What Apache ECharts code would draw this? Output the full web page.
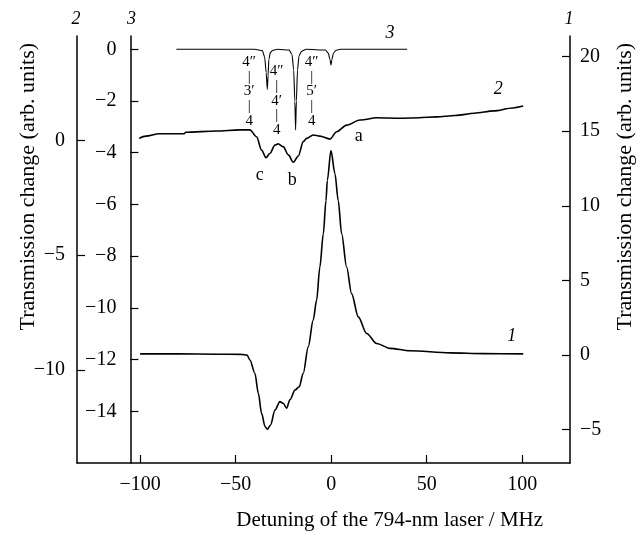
<!DOCTYPE html>
<html>
<head>
<meta charset="utf-8">
<script src="https://cdn.jsdelivr.net/npm/echarts@6/dist/echarts.min.js"></script>
<style>
  html, body { margin:0; padding:0; background:#fff; }
  #chart { width:644px; height:534px; }
</style>
</head>
<body>
<div id="chart"></div>
<script>
// curve 1 (right axis "1")
const detune1 = [-100,-80,-60,-47,-44,-42.5,-39.9,-38.1,-36.4,-34.6,-33.4,-31.7,-29.4,-26.8,-25.1,-23.3,-21.6,-18.9,-16.7,-14.6,-12,-9.4,-7.6,-5.9,-4.1,-2.7,-2,-0.1,2,3.7,5.5,8.1,10.7,14.2,18.6,23.8,30.8,41.2,62.2,80,100.5];
const signal1 = [0.08,0.08,0.06,0.05,0,-0.33,-1.22,-2.56,-3.9,-4.79,-4.97,-4.68,-3.68,-3.12,-3.23,-3.56,-3,-2.34,-2.12,-1.22,0.55,2.34,3.68,5.9,8.13,10.36,11.7,13.7,12.15,10.36,8.13,5.9,4.12,2.56,1.45,0.78,0.45,0.29,0.15,0.1,0.08];

// curve 2 (left axis "2")
const detune2 = [-100.5,-97,-90,-77,-76,-60,-48,-42.5,-39,-36.4,-34.1,-32,-29.4,-27.7,-25.1,-22.4,-19.8,-17.2,-14.6,-12.8,-9.4,-5.9,-0.6,2.9,8.1,15.1,23.8,36,46,55,65,75,85,95,100.5];
const signal2 = [0.1,0.2,0.3,0.3,0.37,0.42,0.47,0.47,0.17,-0.41,-0.74,-0.55,-0.19,-0.14,-0.26,-0.62,-0.94,-0.67,-0.04,0.1,0.25,0.2,0.07,0.39,0.68,0.9,1.0,0.98,1.0,1.04,1.1,1.2,1.3,1.43,1.51];

// curve 3 (left axis "3")
const detune3 = [-81,-40,-36,-34.8,-34,-33.4,-33,-32.6,-31.8,-30.5,-28,-22,-20.5,-19.6,-19,-18.6,-18.2,-17.6,-16.8,-15.5,-13,-3,-1.5,-0.6,-0.1,0.4,1.2,2.5,5,39.8];
const signal3 = [0,0,-0.05,-0.3,-0.9,-1.55,-1,-0.4,-0.12,-0.04,0,-0.03,-0.2,-0.8,-2,-3.12,-2,-0.8,-0.25,-0.08,0,-0.03,-0.15,-0.4,-0.61,-0.4,-0.15,-0.04,0,0];

const xTicks = [-100,-50,0,50,100];
const y1Ticks = [-5,0,5,10,15,20];
const y2Ticks = [-10,-5,0];
const y3Ticks = [-14,-12,-10,-8,-6,-4,-2,0];

// transition labels (axis 3 coords) and peak letters (axis 2 coords)
const transX = [-42.9,-28.5,-10.2];
const transY = [-1.63,-1.99,-1.63];
const transText = ['4″\n|\n3′\n|\n4','4″\n|\n4′\n|\n4','4″\n|\n5′\n|\n4'];
const peakX = [-37.3,-20.4,14.5];
const peakY = [-1.5,-1.71,0.2];
const peakText = ['c','b','a'];

const FONT = "'Liberation Serif', 'Times New Roman', serif";
const minus = v => String(v).replace('-', '−');
const pair = (xs, ys) => xs.map((x, i) => [x, ys[i]]);

const GRID_LEFT = 77, GRID_RIGHT = 74, GRID_TOP = 36, AXIS3_OFFSET = 53.4;

const chart = echarts.init(document.getElementById('chart'));

function yAxisCfg(position, offset, min, max, ticks, margin) {
    return {
        type:'value',
        position:position,
        offset:offset,
        min:min,
        max:max,
        axisLine:{ show:true, onZero:false, lineStyle:{ color:'#000', width:1.5 } },
        axisTick:{ show:true, inside:true, length:8, customValues:ticks, lineStyle:{ color:'#000', width:1.2 } },
        axisLabel:{ customValues:ticks, margin:margin, formatter:minus, fontFamily:FONT, fontSize:20, color:'#000' },
        splitLine:{ show:false }
    };
}

const lineStyle = w => ({ color:'#000', width:w });

chart.setOption({
    animation:false,
    backgroundColor:'#fff',
    grid:{ left:GRID_LEFT, right:GRID_RIGHT, top:GRID_TOP, bottom:71, containLabel:false },
    xAxis:{
        type:'value',
        min:-133,
        max:125,
        position:'bottom',
        axisLine:{ onZero:false, lineStyle:{ color:'#000', width:1.5 } },
        axisTick:{ inside:true, length:8, customValues:xTicks, lineStyle:{ color:'#000', width:1.2 } },
        axisLabel:{ customValues:xTicks, margin:12, formatter:minus, fontFamily:FONT, fontSize:20, color:'#000' },
        splitLine:{ show:false }
    },
    yAxis:[
        yAxisCfg('left', 0, -14.07, 4.57, y2Ticks, 12),
        yAxisCfg('left', -AXIS3_OFFSET, -16, 0.514, y3Ticks, 14),
        yAxisCfg('right', 0, -7.23, 21.38, y1Ticks, 10)
    ],
    series:[
        { type:'line', yAxisIndex:2, data:pair(detune1, signal1), showSymbol:false, smooth:0.3, smoothMonotone:'x', lineStyle:lineStyle(1.6) },
        { type:'line', yAxisIndex:0, data:pair(detune2, signal2), showSymbol:false, smooth:0.3, smoothMonotone:'x', lineStyle:lineStyle(1.6) },
        { type:'line', yAxisIndex:1, data:pair(detune3, signal3), showSymbol:false, smooth:0.2, smoothMonotone:'x', lineStyle:lineStyle(1.1) }
    ]
});

// text placed through the chart's own coordinate conversion
function txt(pos, text, font, extra) {
    return Object.assign({
        type:'text', x:pos[0], y:pos[1], silent:true,
        style:{ text:text, font:font, fill:'#000', textAlign:'center', textVerticalAlign:'middle', align:'center', verticalAlign:'middle' }
    }, extra || {});
}
const toPx = (yIdx, v) => chart.convertToPixel({ xAxisIndex:0, yAxisIndex:yIdx }, v);

const graphics = [];
transText.forEach((t, i) => {
    const g = txt(toPx(1, [transX[i], transY[i]]), t, '15px ' + FONT);
    g.style.lineHeight = 14.6;
    graphics.push(g);
});
peakText.forEach((t, i) => graphics.push(txt(toPx(0, [peakX[i], peakY[i]]), t, '18px ' + FONT)));
graphics.push(txt(toPx(1, [30.8, 0.63]), '3', 'italic 18px ' + FONT));
graphics.push(txt(toPx(0, [87.4, 2.25]), '2', 'italic 18px ' + FONT));
graphics.push(txt(toPx(2, [94.5, 1.27]), '1', 'italic 18px ' + FONT));

// axis numbers above each vertical axis
const nameY = GRID_TOP - 17;
graphics.push(txt([GRID_LEFT - 1, nameY], '2', 'italic 18px ' + FONT));
graphics.push(txt([GRID_LEFT + AXIS3_OFFSET + 1, nameY], '3', 'italic 18px ' + FONT));
graphics.push(txt([644 - GRID_RIGHT - 1, nameY], '1', 'italic 18px ' + FONT));

// axis titles
graphics.push(txt([28.3, 186.7], 'Transmission change (arb. units)', '22px ' + FONT, { rotation:Math.PI / 2 }));
graphics.push(txt([625, 186.7], 'Transmission change (arb. units)', '22px ' + FONT, { rotation:Math.PI / 2 }));
graphics.push(txt([389.7, 520], 'Detuning of the 794-nm laser / MHz', '21px ' + FONT));

chart.setOption({ graphic:graphics });
</script>
</body>
</html>
